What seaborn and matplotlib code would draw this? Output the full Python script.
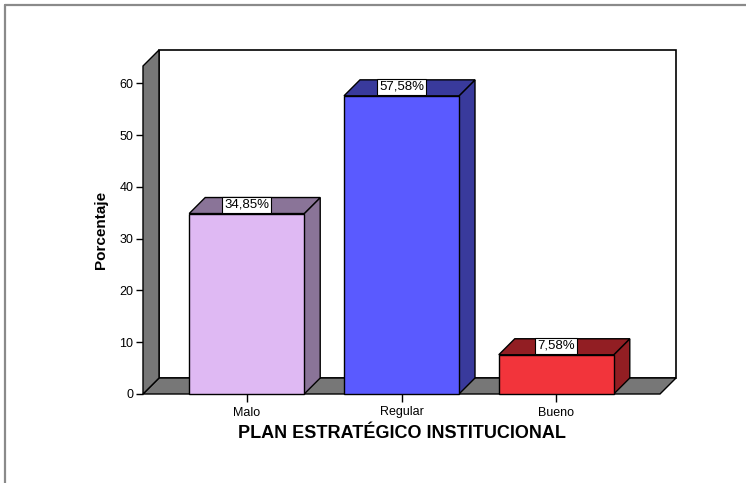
import matplotlib
matplotlib.use("Agg")
import matplotlib.pyplot as plt
from matplotlib.patches import Polygon, Rectangle
from matplotlib.lines import Line2D
import seaborn as sns
import pandas as pd

categories = ["Malo", "Regular", "Bueno"]
percentages = [34.85, 57.58, 7.58]
value_labels = ["34,85%", "57,58%", "7,58%"]
front_colors = ["#DFB9F3", "#5A5AFF", "#F2343B"]
shade_colors = ["#8A7498", "#393A9C", "#921E23"]

sns.set_theme(style="white")
plt.rcParams["font.family"] = ["Liberation Sans", "DejaVu Sans"]

W, H = 746, 483
fig = plt.figure(figsize=(W / 100, H / 100), dpi=100)

# axes spans the front frame plus the depth of the 3D box
left_px, right_px, bottom_px, top_px = 143, 676, 394, 50
ax = fig.add_axes([left_px / W, (H - bottom_px) / H,
                   (right_px - left_px) / W, (bottom_px - top_px) / H])

X0, X1 = -0.67, 2.67
px_per_x = (660 - 143) / (X1 - X0)
px_per_y = (394 - 83.3) / 60.0
DX = 16 / px_per_x
DY = 16 / px_per_y
YTOP = (394 - 66) / px_per_y
BAR_W = 115 / px_per_x

df = pd.DataFrame({"categoria": categories, "porcentaje": percentages})
sns.barplot(data=df, x="categoria", y="porcentaje", hue="categoria",
            palette=front_colors, saturation=1, width=BAR_W, edgecolor="black",
            linewidth=1.0, legend=False, ax=ax, zorder=5)
for p in ax.patches:
    p.set_zorder(5)
    p.set_clip_on(False)

ax.set_xlim(X0, X1 + DX)
ax.set_ylim(0, YTOP + DY)

wall_grey = "#777777"
# back wall
ax.add_patch(Rectangle((X0 + DX, DY), X1 - X0, YTOP, facecolor="white",
                       edgecolor="black", linewidth=1.2, zorder=0, clip_on=False))
# floor
ax.add_patch(Polygon([(X0, 0), (X1, 0), (X1 + DX, DY), (X0 + DX, DY)],
                     closed=True, facecolor=wall_grey, edgecolor="black",
                     linewidth=1.0, zorder=1, clip_on=False))
# left wall
ax.add_patch(Polygon([(X0, 0), (X0, YTOP), (X0 + DX, YTOP + DY), (X0 + DX, DY)],
                     closed=True, facecolor=wall_grey, edgecolor="black",
                     linewidth=1.0, zorder=1, clip_on=False))

# 3D sides and tops of the bars
for i, (v, sc) in enumerate(zip(percentages, shade_colors)):
    a, b = i - BAR_W / 2, i + BAR_W / 2
    ax.add_patch(Polygon([(b, 0), (b, v), (b + DX, v + DY), (b + DX, DY)],
                         closed=True, facecolor=sc, edgecolor="black",
                         linewidth=1.0, zorder=4, clip_on=False))
    ax.add_patch(Polygon([(a, v), (b, v), (b + DX, v + DY), (a + DX, v + DY)],
                         closed=True, facecolor=sc, edgecolor="black",
                         linewidth=1.0, zorder=4, clip_on=False))
    ax.text(i, v + 9 / px_per_y, value_labels[i], ha="center", va="center",
            fontsize=9.5, color="black", zorder=7,
            bbox=dict(boxstyle="square,pad=0.15", facecolor="white",
                      edgecolor="black", linewidth=0.8))

for s in ax.spines.values():
    s.set_visible(False)

ax.set_yticks([0, 10, 20, 30, 40, 50, 60])
ax.tick_params(axis="y", left=True, length=5, width=1, color="black",
               labelsize=9, pad=2, labelcolor="black")
ax.tick_params(axis="x", bottom=True, length=6, width=1, color="black",
               labelsize=9, pad=3, labelcolor="black")

ax.set_xlabel("PLAN ESTRATÉGICO INSTITUCIONAL", fontsize=13, fontweight="bold",
              color="black")
ax.xaxis.set_label_coords((402 - left_px) / (right_px - left_px),
                          -(433 - bottom_px) / (bottom_px - top_px))
ax.xaxis.label.set_va("center")
ax.set_ylabel("Porcentaje", fontsize=11, fontweight="bold", color="black")
ax.yaxis.set_label_coords((101 - left_px) / (right_px - left_px),
                          (bottom_px - 230) / (bottom_px - top_px))
ax.yaxis.label.set_va("center")

# outer frame lines along the top and left edges
fig.add_artist(Line2D([5 / W, 1], [1 - 5 / H, 1 - 5 / H], transform=fig.transFigure,
                      color="#8a8a8a", linewidth=1.6))
fig.add_artist(Line2D([5 / W, 5 / W], [0, 1 - 5 / H], transform=fig.transFigure,
                      color="#8a8a8a", linewidth=1.6))

fig.savefig("out.png", dpi=100)
